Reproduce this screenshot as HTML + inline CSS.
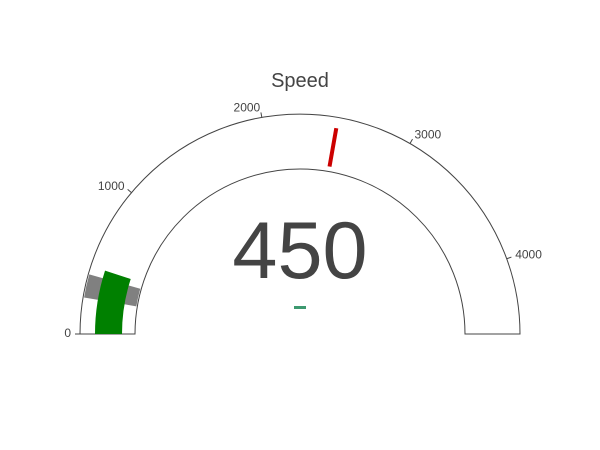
<!DOCTYPE html>
<html><head><meta charset="utf-8"><style>
html,body{margin:0;padding:0;background:#fff;width:600px;height:450px;overflow:hidden}
svg{font-family:"Liberation Sans",sans-serif}
</style></head><body>
<svg id="chart" width="600" height="450" viewBox="0 0 600 450">
<text x="300" y="87" text-anchor="middle" font-size="20" fill="#444">Speed</text>
<g id="g"></g>
<text x="300" y="278" text-anchor="middle" font-size="81" fill="#444">450</text>
<rect x="294" y="306" width="12" height="3" fill="#3d9970"/>
</svg>
<script>
const rangeMax = [4500];
const gaugeValue = [450];
const tickValues = [0, 1000, 2000, 3000, 4000];
const tickLabels = ["0", "1000", "2000", "3000", "4000"];
const stepRange = [240, 395];
const thresholdValue = [2500];

const cx = 300, cy = 334, R = 220, r = 165;
const NS = "http://www.w3.org/2000/svg";
const g = document.getElementById('g');
function ang(v){ return Math.PI * (1 - v / rangeMax[0]); }
function pt(v, rad){ const a = ang(v); return [cx + rad*Math.cos(a), cy - rad*Math.sin(a)]; }
function band(v0, v1, r0, r1){
  const a = pt(v0, r1), b = pt(v1, r1), c = pt(v1, r0), d = pt(v0, r0);
  return `M${a[0]},${a[1]} A${r1},${r1} 0 0 1 ${b[0]},${b[1]} L${c[0]},${c[1]} A${r0},${r0} 0 0 0 ${d[0]},${d[1]} Z`;
}
function mk(tag, attrs){ const e = document.createElementNS(NS, tag); for (const k in attrs) e.setAttribute(k, attrs[k]); g.appendChild(e); return e; }

const bg = mk('path', {d: `M${cx-R},${cy} A${R},${R} 0 0 1 ${cx+R},${cy} L${cx+r},${cy} A${r},${r} 0 0 0 ${cx-r},${cy} Z`, fill: '#fff', stroke: '#444', 'stroke-width': 1});



const st = mk('path', {d: band(stepRange[0], stepRange[1], r + 1, R - 1), fill: '#808080'});



const bar = mk('path', {d: band(0, gaugeValue[0], r + 13, R - 15), fill: '#008000'});



const t0 = pt(thresholdValue[0], r + 5), t1 = pt(thresholdValue[0], R - 11);
const th = mk('line', {x1: t0[0], y1: t0[1], x2: t1[0], y2: t1[1], stroke: '#cc0000', 'stroke-width': 4});



tickValues.forEach((v, i) => {
  const p0 = pt(v, R), p1 = pt(v, R + 5), pl = pt(v, R + 9);
  const tk = mk('line', {x1: p0[0], y1: p0[1], x2: p1[0], y2: p1[1], stroke: '#444', 'stroke-width': 1});
  
  
  const a = ang(v);
  const anchor = Math.cos(a) > 0.2 ? 'start' : (Math.cos(a) < -0.1 ? 'end' : 'middle');
  const tx = mk('text', {x: pl[0], y: pl[1] + 3, 'text-anchor': anchor, 'font-size': 12, fill: '#444'});
  tx.textContent = tickLabels[i];
  
  
});
</script>
</body></html>
